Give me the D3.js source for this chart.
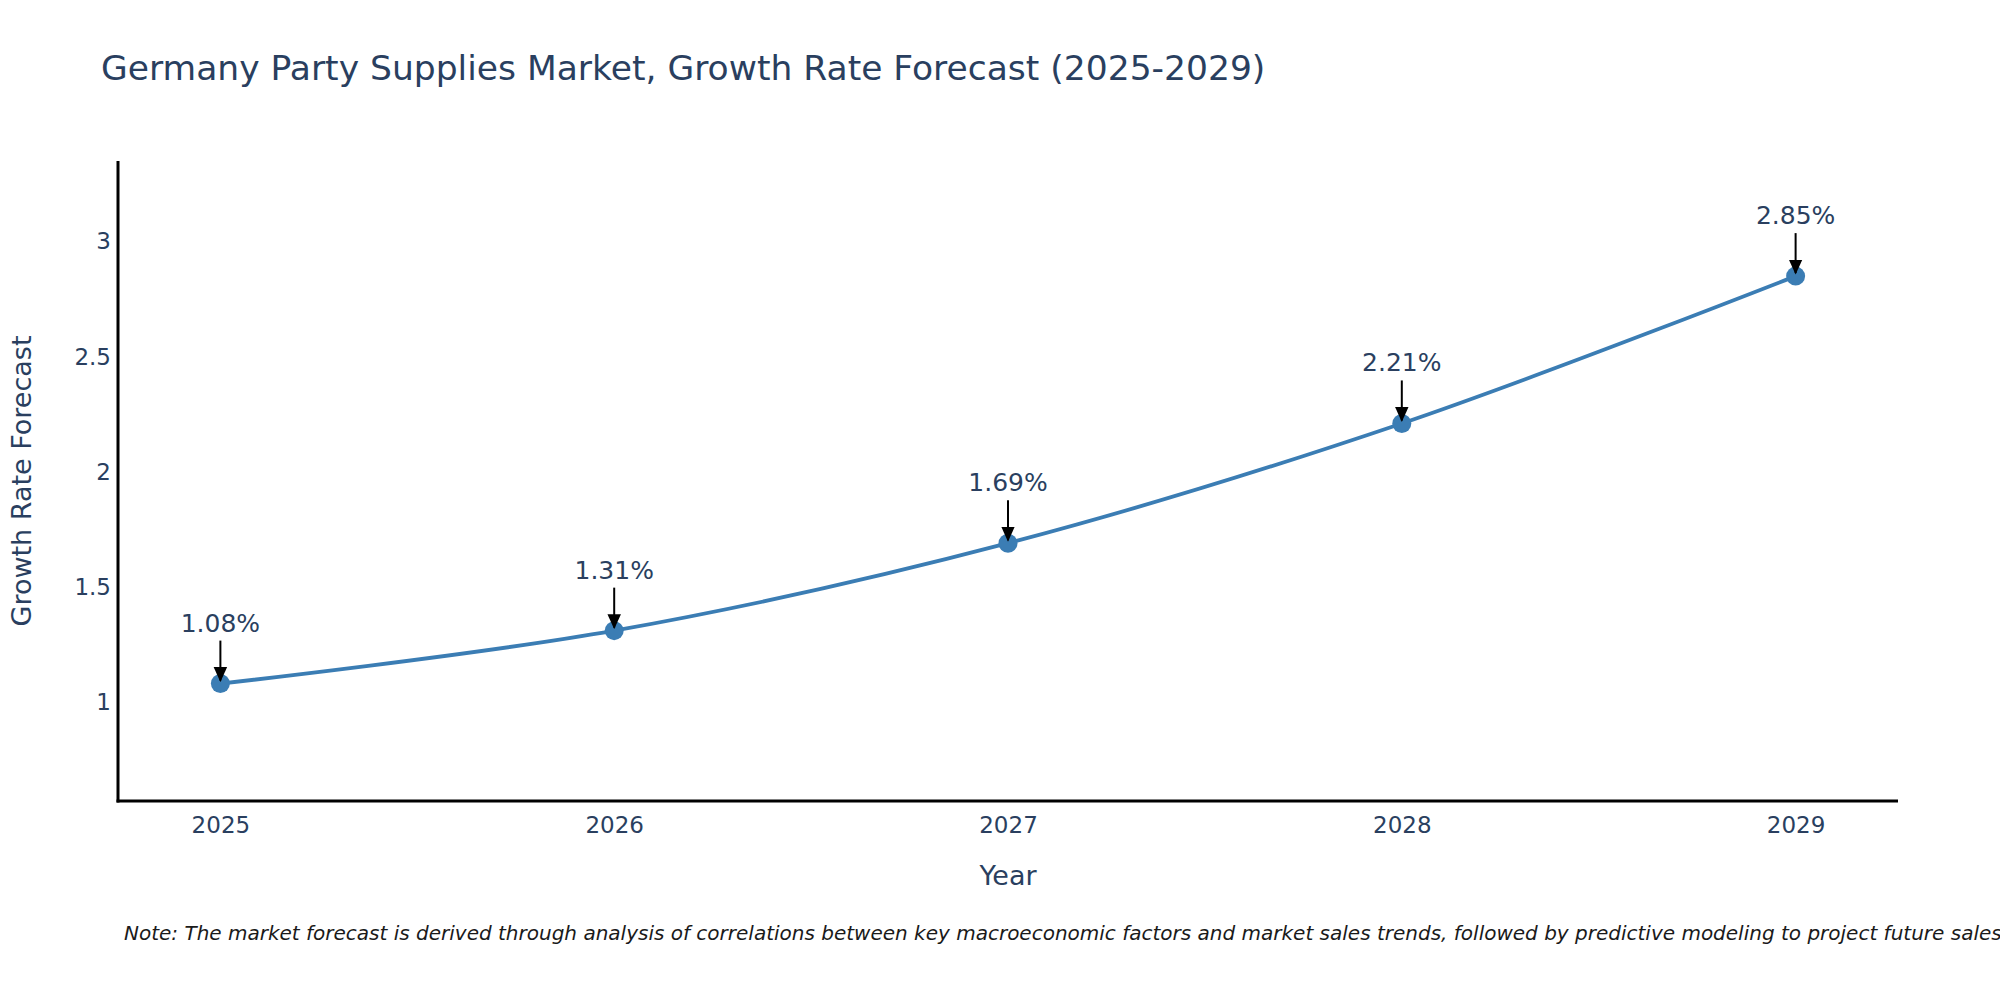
<!DOCTYPE html>
<html>
<head>
<meta charset="utf-8">
<script src="https://cdn.jsdelivr.net/npm/d3@7"></script>
<style>
  body { margin: 0; background: #fff; }
  text { font-family: "DejaVu Sans", Verdana, sans-serif; }
</style>
</head>
<body>
<div id="chart"></div>
<script>
//-------------------------------------
// data
//-------------------------------------
var years = [2025, 2026, 2027, 2028, 2029];
var growth = [1.08, 1.31, 1.69, 2.21, 2.85];
var yTicks = [1, 1.5, 2, 2.5, 3];
var labels = ["1.08%", "1.31%", "1.69%", "2.21%", "2.85%"];

var titleText = "Germany Party Supplies Market, Growth Rate Forecast (2025-2029)";
var noteText = "Note: The market forecast is derived through analysis of correlations between key macroeconomic factors and market sales trends, followed by predictive modeling to project future sales";

//-------------------------------------
// field
//-------------------------------------
var width = 2000;
var height = 1000;
var pLeft = 118, pRight = 1898, pTop = 161, pBottom = 801;
var ink = "#2a3f5f";
var lineColor = "#3b7db4";

var svg = d3.select("#chart")
	.append("svg")
	.attr("width", width)
	.attr("height", height)
	.style("background", "#fff");

var x = d3.scaleLinear().domain([2024.74, 2029.26]).range([pLeft, pRight]);
var y = d3.scaleLinear().domain([0.57, 3.35]).range([pBottom, pTop]);

// arrow marker
svg.append("defs").append("marker")
	.attr("id", "head")
	.attr("viewBox", "0 0 10 10")
	.attr("refX", 9)
	.attr("refY", 5)
	.attr("markerWidth", 7.5)
	.attr("markerHeight", 7.5)
	.attr("markerUnits", "strokeWidth")
	.attr("orient", "auto")
	.append("path")
	.attr("d", "M0,0.5 L10,5 L0,9.5 Z")
	.attr("fill", "#000");

// title
svg.append("text")
	.attr("x", 101)
	.attr("y", 80)
	.attr("font-size", 34.5)
	.attr("fill", ink)
	.text(titleText);

// axes
var xAxis = svg.append("g")
	.attr("transform", "translate(0," + pBottom + ")")
	.call(d3.axisBottom(x).tickValues(years).tickFormat(d3.format("d")).tickSize(0).tickPadding(16));

var yAxis = svg.append("g")
	.attr("transform", "translate(" + pLeft + ",0)")
	.call(d3.axisLeft(y).tickValues(yTicks).tickFormat(function(d){ return String(d); }).tickSize(0).tickPadding(7));

[xAxis, yAxis].forEach(function(g){
	g.select(".domain").remove();
	g.selectAll("text")
		.attr("font-size", 23)
		.attr("font-family", "DejaVu Sans, Verdana, sans-serif")
		.attr("fill", ink);
});

svg.append("line")
	.attr("x1", pLeft).attr("x2", pLeft)
	.attr("y1", pTop).attr("y2", pBottom + 1.5)
	.attr("stroke", "#000").attr("stroke-width", 3);

svg.append("line")
	.attr("x1", pLeft - 1.5).attr("x2", pRight)
	.attr("y1", pBottom).attr("y2", pBottom)
	.attr("stroke", "#000").attr("stroke-width", 3);

// axis titles
svg.append("text")
	.attr("x", x(2027))
	.attr("y", 885)
	.attr("text-anchor", "middle")
	.attr("font-size", 27)
	.attr("fill", ink)
	.text("Year");

svg.append("text")
	.attr("transform", "translate(31," + ((pTop + pBottom) / 2) + ") rotate(-90)")
	.attr("text-anchor", "middle")
	.attr("font-size", 27)
	.attr("fill", ink)
	.text("Growth Rate Forecast");

// line
var points = years.map(function(d, i){ return [d, growth[i]]; });

var line = d3.line()
	.x(function(d){ return x(d[0]); })
	.y(function(d){ return y(d[1]); })
	.curve(d3.curveCatmullRom.alpha(0.5));

svg.append("path")
	.datum(points)
	.attr("d", line)
	.attr("fill", "none")
	.attr("stroke", lineColor)
	.attr("stroke-width", 3.8);

svg.selectAll("circle.dot")
	.data(points)
	.enter()
	.append("circle")
	.attr("class", "dot")
	.attr("cx", function(d){ return x(d[0]); })
	.attr("cy", function(d){ return y(d[1]); })
	.attr("r", 9.5)
	.attr("fill", lineColor);

// annotations
var ann = svg.selectAll("g.ann")
	.data(points)
	.enter()
	.append("g")
	.attr("class", "ann")
	.attr("transform", function(d){ return "translate(" + x(d[0]) + "," + y(d[1]) + ")"; });

ann.append("line")
	.attr("x1", 0).attr("x2", 0)
	.attr("y1", -43).attr("y2", -3)
	.attr("stroke", "#000")
	.attr("stroke-width", 2)
	.attr("marker-end", "url(#head)");

ann.append("text")
	.attr("x", 0)
	.attr("y", -52)
	.attr("text-anchor", "middle")
	.attr("font-size", 25)
	.attr("fill", ink)
	.text(function(d, i){ return labels[i]; });

// note
svg.append("text")
	.attr("x", 124)
	.attr("y", 940)
	.attr("font-size", 20)
	.attr("font-style", "italic")
	.attr("fill", "#1a1a1a")
	.text(noteText);
</script>
</body>
</html>
